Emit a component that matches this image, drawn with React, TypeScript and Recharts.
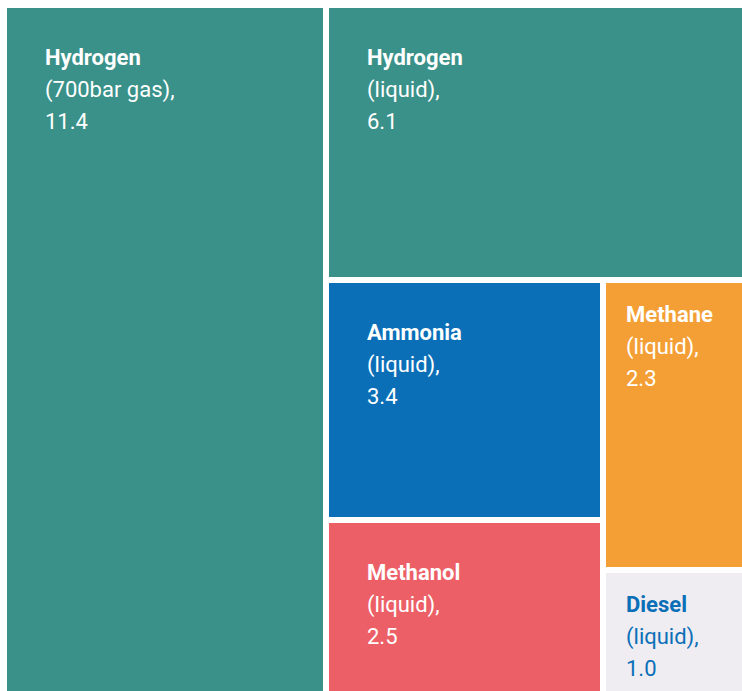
import { Treemap } from "recharts";

const fuels = ["Hydrogen", "Hydrogen", "Ammonia", "Methanol", "Methane", "Diesel"];
const states = ["(700bar gas),", "(liquid),", "(liquid),", "(liquid),", "(liquid),", "(liquid),"];
const values = [11.4, 6.1, 3.4, 2.5, 2.3, 1.0];
const fills = ["#399189", "#399189", "#0b6fb8", "#ec5f67", "#f49f35", "#efedf1"];
const inks = ["#ffffff", "#ffffff", "#ffffff", "#ffffff", "#ffffff", "#0b6fb8"];

const leaf = (i: number) => ({ name: fuels[i], state: states[i], size: values[i], idx: i });

// grouping mirrors the slicing of the original figure
const data = [
  leaf(0),
  {
    name: "rest",
    children: [
      leaf(1),
      {
        name: "small",
        children: [
          { name: "colA", children: [leaf(2), leaf(3)] },
          { name: "colB", children: [leaf(4), leaf(5)] },
        ],
      },
    ],
  },
];

const GAP = 3;

function Cell(props: any) {
  const { x, y, width, height, children, idx, name, state, size } = props;
  if (children && children.length) return null;
  if (idx === undefined) return null;
  const rx = x + GAP;
  const ry = y + GAP;
  const rw = width - 2 * GAP;
  const rh = height - 2 * GAP;
  const pad = rw < 200 ? 20 : 38;
  const base = ry + pad + 19;
  const ink = inks[idx];
  return (
    <g>
      <rect x={rx} y={ry} width={rw} height={rh} fill={fills[idx]} />
      <text x={rx + pad} y={base} fill={ink} fontSize={22} fontWeight={700} fontFamily="Roboto">
        {name}
      </text>
      <text x={rx + pad} y={base + 32} fill={ink} fontSize={22} fontFamily="Roboto">
        {state}
      </text>
      <text x={rx + pad} y={base + 64} fill={ink} fontSize={22} fontFamily="Roboto">
        {size.toFixed(1)}
      </text>
    </g>
  );
}

export default function App() {
  return (
    <div
      style={{
        position: "absolute",
        left: 0,
        top: 0,
        width: 742,
        height: 691,
        overflow: "hidden",
        background: "#ffffff",
      }}
    >
      <div style={{ position: "absolute", left: 4, top: 5 }}>
        <Treemap
          width={754}
          height={691}
          data={data}
          dataKey="size"
          aspectRatio={1}
          isAnimationActive={false}
          content={(p: any) => <Cell {...p} />}
        />
      </div>
    </div>
  );
}
